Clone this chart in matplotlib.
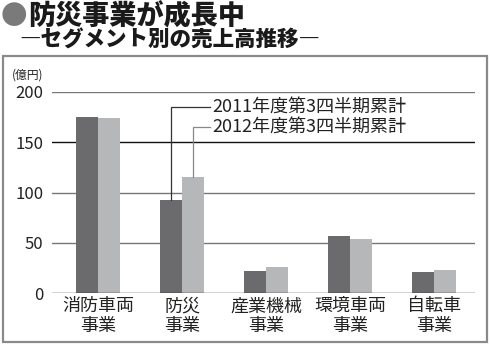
import matplotlib.pyplot as plt
from matplotlib.patches import Rectangle

plt.rcParams['font.family'] = ['Noto Sans CJK JP', 'DejaVu Sans']

# segment sales (億円), cumulative to Q3
segments = ['消防車両\n事業', '防災\n事業', '産業機械\n事業', '環境車両\n事業', '自転車\n事業']
sales_2011 = [175, 92.5, 21.5, 57, 21]
sales_2012 = [174, 115.5, 26, 54, 22.5]
series_labels = ['2011年度第3四半期累計', '2012年度第3四半期累計']
yticks = [0, 50, 100, 150, 200]

dark = '#6b6b6e'
light = '#b6b7b9'

fig = plt.figure(figsize=(4.9, 3.46), dpi=100)

# outer frame
fig.patches.append(Rectangle((3 / 490, 4 / 346), 484 / 490, 286 / 346,
                             transform=fig.transFigure, fill=False,
                             edgecolor='#8a8a8a', linewidth=1.6))

fig.text(0.002, 0.953, '●', fontsize=19, color='#7a7a7a', va='center', ha='left')
fig.text(0.058, 0.953, '防災事業が成長中', fontsize=19.5, fontweight='black',
         va='center', ha='left', color='#1a1a1a')
fig.text(0.04, 0.885, '―セグメント別の売上高推移―', fontsize=15.5, fontweight='black',
         va='center', ha='left', color='#1a1a1a')
fig.text(0.024, 0.783, '(億円)', fontsize=8.5, va='center', ha='left', color='#222222')

ax = fig.add_axes([52 / 490, 53 / 346, 423 / 490, 201 / 346])
w = 0.262
x = list(range(len(segments)))
ax.bar([i - w / 2 for i in x], sales_2011, width=w, color=dark, zorder=3)
ax.bar([i + w / 2 for i in x], sales_2012, width=w, color=light, zorder=3)

for v in yticks[1:]:
    ax.axhline(v, color='#111111' if v == 150 else '#777777', linewidth=1.0, zorder=1)
ax.axhline(0, color='#222222', linewidth=1.0, zorder=4)

ax.set_xlim(-0.548, 4.488)
ax.set_ylim(0, 200)
ax.set_yticks(yticks)
ax.set_yticklabels([str(v) for v in yticks], fontsize=12, color='#222222')
ax.set_xticks(x)
ax.set_xticklabels(segments, fontsize=13, color='#222222', linespacing=1.12)
ax.tick_params(axis='both', length=0)
ax.tick_params(axis='y', pad=6)
ax.tick_params(axis='x', pad=3)
for s in ax.spines.values():
    s.set_visible(False)

# leader lines to series labels
x_text = 1.357
y_lab = [184.7, 164.8]
ax.plot([1 - w / 2, 1 - w / 2, x_text - 0.02], [sales_2011[1], y_lab[0], y_lab[0]],
        color='#333333', linewidth=0.9, zorder=5)
ax.plot([1 + w / 2, 1 + w / 2, x_text - 0.02], [sales_2012[1], y_lab[1], y_lab[1]],
        color='#888888', linewidth=0.9, zorder=5)
for lab, yy in zip(series_labels, y_lab):
    ax.text(x_text, yy, lab, fontsize=13, va='center', ha='left', color='#222222',
            zorder=6, bbox=dict(facecolor='white', edgecolor='none', pad=0.3))

fig.savefig('out.png', dpi=100)
